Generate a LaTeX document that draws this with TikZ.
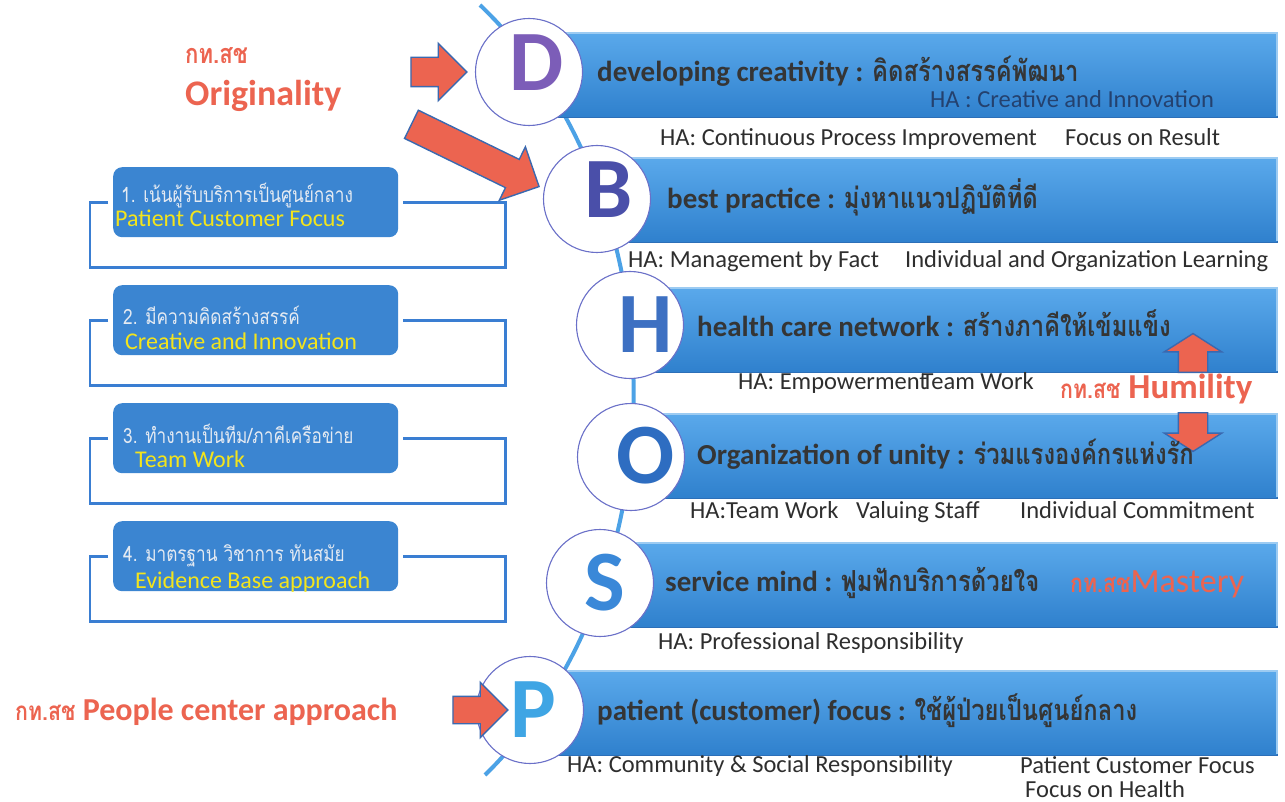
\documentclass[tikz,border=0pt]{standalone}
\usepackage{fontspec}
\setmainfont{Carlito}
\newfontfamily\thai[Script=Thai,FakeStretch=0.82]{Loma}
\usetikzlibrary{shapes.arrows}
\newcommand\fsz[1]{\fontsize{#1}{#1}\selectfont}
\definecolor{barTop}{HTML}{5AA9EB}
\definecolor{barBot}{HTML}{2F80CD}
\definecolor{barEdge}{HTML}{2C6FB8}
\definecolor{barRim}{HTML}{9CCBF2}
\definecolor{discLine}{HTML}{6A70C8}
\definecolor{spineBlue}{HTML}{4CA2E6}
\definecolor{headGray}{HTML}{353535}
\definecolor{haGray}{HTML}{2E2E2E}
\definecolor{haNavy}{HTML}{24416E}
\definecolor{ktRed}{HTML}{EC6450}
\definecolor{arrBlue}{HTML}{3A69B0}
\definecolor{boxBlue}{HTML}{3B85D1}
\definecolor{boxTxt}{HTML}{E4EAF2}
\definecolor{boxYel}{HTML}{F3E41C}
\definecolor{brBlue}{HTML}{3A7ED2}
\definecolor{colD}{HTML}{7C5DB8}
\definecolor{colB}{HTML}{4A4FA9}
\definecolor{colH}{HTML}{3D70C2}
\definecolor{colO}{HTML}{2E6DC1}
\definecolor{colS}{HTML}{3A88D8}
\definecolor{colP}{HTML}{3FA5E4}
\tikzset{
  bar/.style={rectangle, anchor=west, minimum height=85pt, inner sep=0pt,
    top color=barTop, bottom color=barBot, draw=barEdge, line width=.8pt},
  rim/.style={draw=barRim, line width=1.6pt},
  disc/.style={circle, minimum size=107pt, inner sep=0pt, fill=white,
    draw=discLine, line width=1.1pt},
  letter/.style={inner sep=0pt, font=\fsz{86}\bfseries},
  head/.style={anchor=base west, inner sep=0pt, text=headGray, font=\fsz{29}\bfseries},
  ha/.style={anchor=base west, inner sep=0pt, text=haGray, font=\fsz{24.5}},
  kt/.style={anchor=base west, inner sep=0pt, text=ktRed, font=\fsz{35}\bfseries},
  box/.style={rectangle, rounded corners=9pt, anchor=north west, fill=boxBlue,
    minimum width=285pt, minimum height=70pt},
  boxth/.style={anchor=base west, inner sep=0pt, text=boxTxt, font=\thai\fsz{21}},
  boxen/.style={anchor=base west, inner sep=0pt, text=boxYel, font=\fsz{24}},
  bracket/.style={draw=brBlue, line width=2.8pt},
  blockarrow/.style={single arrow, fill=ktRed, draw=arrBlue,
    line width=1.4pt, single arrow head indent=0pt}
}
\begin{document}
\begin{tikzpicture}[x=1pt,y=-1pt]
\fill[white] (0,0) rectangle (1285,802);
\useasboundingbox (0,0) rectangle (1285,802);
% left boxes
\node[box] (b1) at (113,167) {};
\node[box] (b2) at (113,285) {};
\node[box] (b3) at (113,403) {};
\node[box] (b4) at (113,521) {};
\foreach \b in {b1,b2,b3,b4}
  \draw[bracket] ([xshift=-5pt]\b.west) -| ++(-18,65) -| ([xshift=107pt]\b.east) -- ([xshift=5pt]\b.east);
\node[boxth] (t1) at ([shift={(8,36)}]b1.north west) {1. เน้นผู้รับบริการเป็นศูนย์กลาง};
\node[boxen] (e1) at ([shift={(2,60)}]b1.north west) {Patient Customer Focus};
\node[boxth] (t2) at ([shift={(10,39)}]b2.north west) {2. มีความคิดสร้างสรรค์};
\node[boxen] (e2) at ([shift={(12,64)}]b2.north west) {Creative and Innovation};
\node[boxth] (t3) at ([shift={(10,40)}]b3.north west) {3. ทำงานเป็นทีม/ภาคีเครือข่าย};
\node[boxen] (e3) at ([shift={(22,64)}]b3.north west) {Team Work};
\node[boxth] (t4) at ([shift={(10,40)}]b4.north west) {4. มาตรฐาน วิชาการ ทันสมัย};
\node[boxen] (e4) at ([shift={(22,67)}]b4.north west) {Evidence Base approach};
% spine
\coordinate (sTop) at (480,5);
\coordinate (sBot) at (485,775);
\draw[spineBlue, line width=4pt] (sTop) .. controls (684,200) and (684,580) .. (sBot);
% bars
\node[bar, minimum width=747pt] (barD) at (530,75) {};
\node[bar, minimum width=681pt] (barB) at (596,200) {};
\node[bar, minimum width=645pt] (barH) at (632,330) {};
\node[bar, minimum width=645pt] (barO) at (632,456) {};
\node[bar, minimum width=677pt] (barS) at (600,585) {};
\node[bar, minimum width=747pt] (barP) at (530,713) {};
\foreach \r in {barD,barB,barH,barO,barS,barP}
  \draw[rim] ([yshift=-1pt]\r.north west) -- ([shift={(-1pt,-1pt)}]\r.north east) -- ([shift={(-1pt,2pt)}]\r.south east);
% discs
\node[disc] (D) at (529,72) {};
\node[disc] (B) at (597,199) {};
\node[disc] (H) at (630,325) {};
\node[disc] (O) at (631,457) {};
\node[disc] (S) at (600,583) {};
\node[disc] (P) at (530,710) {};
\node[letter, text=colD] (lD) at ([shift={(8,-9)}]D) {D};
\node[letter, text=colB] (lB) at ([shift={(12,-9)}]B) {B};
\node[letter, text=colH] (lH) at ([shift={(16,0)}]H) {H};
\node[letter, text=colO] (lO) at ([shift={(15,-1)}]O) {O};
\node[letter, text=colS] (lS) at ([shift={(5,0)}]S) {S};
\node[letter, text=colP] (lP) at ([shift={(3,0)}]P) {P};
% block arrows
\node[blockarrow, inner sep=14pt, minimum height=56pt, single arrow head extend=14pt, anchor=tip] (arrD) at ([xshift=-7pt]D.west) {};
\node[blockarrow, rotate=-26, inner sep=15pt, minimum height=142pt, single arrow head extend=14pt, anchor=tip] (arrB) at ([shift={(-3,-12)}]B.west) {};
\node[blockarrow, inner sep=13pt, minimum height=55pt, single arrow head extend=14pt, anchor=tip] (arrP) at ([xshift=33pt]P.west) {};
\node[blockarrow, shape border rotate=90, inner sep=14pt, minimum height=31pt, single arrow head extend=14pt, single arrow tip angle=115, anchor=tail] (arrUp) at (1193,373) {};
\node[blockarrow, shape border rotate=270, inner sep=14pt, minimum height=30pt, single arrow head extend=14pt, single arrow tip angle=115, anchor=tail] (arrDown) at (1193,412) {};
% bar texts
\node[head] (hD) at (597,82) {developing creativity : {\thai คิดสร้างสรรค์พัฒนา}};
\node[ha, text=haNavy] (haD) at (930,108) {HA : Creative and Innovation};
\node[ha] (haD1) at (660,146) {HA: Continuous Process Improvement};
\node[ha] (haD2) at (1065,146) {Focus on Result};
\node[head] (hB) at (667,209) {best practice : {\thai มุ่งหาแนวปฏิบัติที่ดี}};
\node[ha] (haB1) at (628,268) {HA: Management by Fact};
\node[ha] (haB2) at (905,268) {Individual and Organization Learning};
\node[head] (hH) at (697,337) {health care network : {\thai สร้างภาคีให้เข้มแข็ง}};
\node[ha] (haH) at (738,389) {HA: Empowerment\kern-6pt{}Team Work};
\node[head] (hO) at (697,464) {Organization of unity : {\thai ร่วมแรงองค์กรแห่งรัก}};
\node[ha] (haO1) at (690,518) {HA:Team Work};
\node[ha] (haO2) at (856,518) {Valuing Staff};
\node[ha] (haO3) at (1020,518) {Individual Commitment};
\node[head] (hS) at (665,591) {service mind : {\thai ฟูมฟักบริการด้วยใจ}};
\node[ha] (haS) at (658,649) {HA: Professional Responsibility};
\node[head] (hP) at (597,720) {patient (customer) focus : {\thai ใช้ผู้ป่วยเป็นศูนย์กลาง}};
\node[ha] (haP1) at (567,772) {HA: Community \& Social Responsibility};
\node[ha] (haP2) at (1020,773) {Patient Customer Focus};
\node[ha] (haP3) at (1025,797) {Focus on\hspace{6pt}Health};
% red labels
\node[kt, font=\thai\fsz{27}\bfseries] (ktD) at (185,64) {กท.สช};
\node[kt, font=\fsz{36}\bfseries] (orig) at (185,106) {Originality};
\node[kt] (hum) at (1060,398) {{\thai\fsz{26}กท.สช} Humility};
\node[kt, font=\fsz{34}] (mast) at (1070,592) {{\thai\fsz{26}\bfseries กท.สช}Mastery};
\node[kt, font=\fsz{32}\bfseries] (ppl) at (15,720) {{\thai\fsz{26}กท.สช} People center approach};
\end{tikzpicture}
\end{document}
